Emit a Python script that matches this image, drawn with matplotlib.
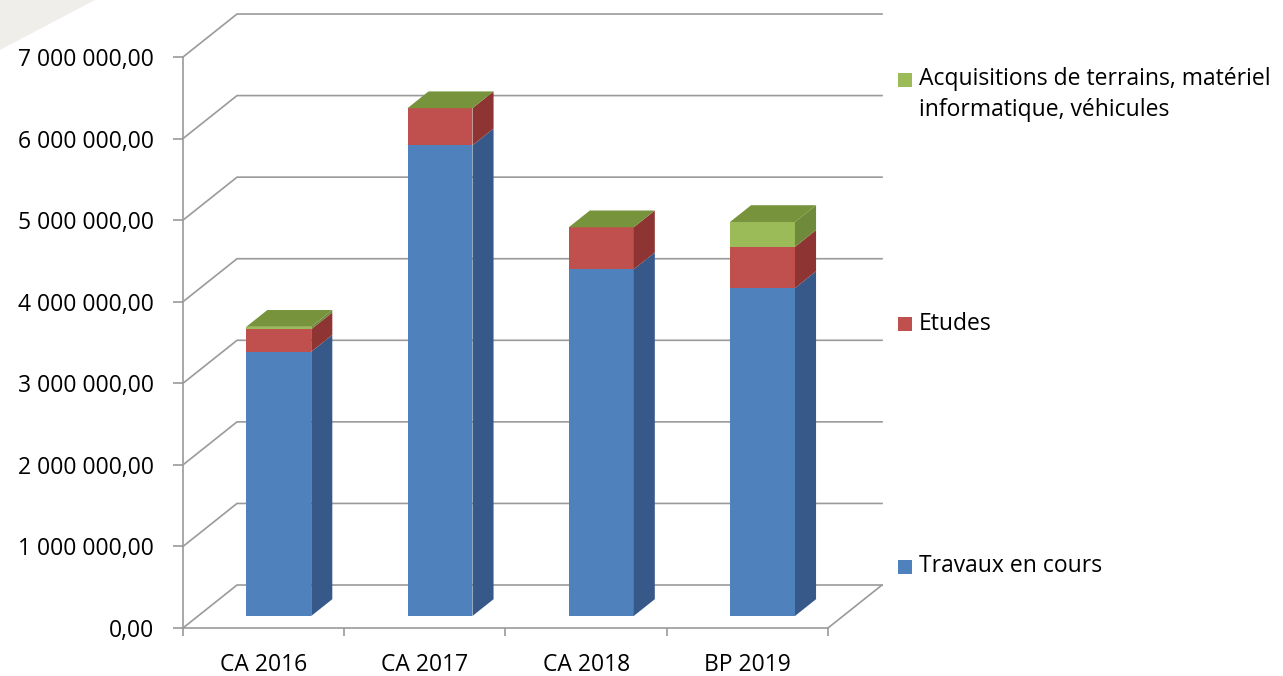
import numpy as np
import matplotlib.pyplot as plt
from matplotlib.patches import Polygon, Rectangle

# data
categories = ['CA 2016', 'CA 2017', 'CA 2018', 'BP 2019']
travaux = [3240000, 5770000, 4250000, 4020000]
etudes = [275000, 455000, 515000, 505000]
acquisitions = [30000, 0, 0, 305000]
series_names = ['Travaux en cours', 'Etudes',
                'Acquisitions de terrains, matériel\ninformatique, véhicules']
yticks = np.arange(0, 7000001, 1000000)

front_colors = ['#4F81BD', '#C0504D', '#9BBB59']
side_colors = ['#37598A', '#8E3533', '#6E8A3A']
top_color = '#77933C'
grid_col = '#9A9A9A'

plt.rcParams['font.family'] = ['Open Sans', 'DejaVu Sans']

W, H = 1283, 676
fig = plt.figure(figsize=(W / 100, H / 100), dpi=100)

def fx(px):
    return px / W

def fy(py):
    return 1 - py / H

# light slide decoration in the top-left corner
fig.patches.append(Polygon([(0, 1), (fx(95), 1), (0, fy(50))], closed=True,
                           transform=fig.transFigure, facecolor='#EFEEEA',
                           edgecolor='none', zorder=-5))

ax = fig.add_axes([fx(183), fy(628), fx(828) - fx(183), fy(57) - fy(628)])
ax.patch.set_alpha(0)
ax.set_xlim(0, 4)
ax.set_ylim(0, 7e6)

# depth of the 3d box in data units
DX = 0.335
DY = 527000
d0, d1 = 0.28, 0.67
bw = 0.403

# walls / gridlines
for v in yticks:
    ax.plot([0, DX, 4 + DX], [v, v + DY, v + DY], color=grid_col, lw=1.2,
            clip_on=False, zorder=1)
ax.plot([4 + DX, 4], [DY, 0], color=grid_col, lw=1.2, clip_on=False, zorder=1)

# stacked 3d bars
series = [travaux, etudes, acquisitions]
x = np.arange(len(categories)) + 0.5 + d0 * DX
bottom = np.zeros(len(categories))
ddx = (d1 - d0) * DX
ddy = (d1 - d0) * DY
for k, vals in enumerate(series):
    vals = np.array(vals, dtype=float)
    ax.bar(x, vals, bw, bottom=bottom + d0 * DY, color=front_colors[k],
           zorder=3, clip_on=False, linewidth=0)
    for i in range(len(categories)):
        b = bottom[i] + d0 * DY
        t = b + vals[i]
        xr = x[i] + bw / 2
        if vals[i] > 0:
            ax.add_patch(Polygon([(xr, b), (xr + ddx, b + ddy), (xr + ddx, t + ddy), (xr, t)],
                                 closed=True, facecolor=side_colors[k],
                                 edgecolor='none', zorder=3, clip_on=False))
    bottom = bottom + vals

for i in range(len(categories)):
    t = bottom[i] + d0 * DY
    xl, xr = x[i] - bw / 2, x[i] + bw / 2
    ax.add_patch(Polygon([(xl, t), (xl + ddx, t + ddy), (xr + ddx, t + ddy), (xr, t)],
                         closed=True, facecolor=top_color, edgecolor='none',
                         zorder=3, clip_on=False))

# axes
for s in ['top', 'right']:
    ax.spines[s].set_visible(False)
for s in ['left', 'bottom']:
    ax.spines[s].set_color(grid_col)
    ax.spines[s].set_linewidth(1.2)

ax.set_yticks(yticks)
ax.set_yticklabels([f'{v:,.2f}'.replace(',', ' ').replace('.', ',') for v in yticks])
ax.tick_params(axis='y', direction='out', length=7, width=1.2, color=grid_col,
               pad=14, labelsize=16.5)

ax.set_xticks(np.arange(0, 5))
ax.set_xticklabels([])
ax.set_xticks(np.arange(len(categories)) + 0.5, minor=True)
ax.set_xticklabels(categories, minor=True)
ax.tick_params(axis='x', which='major', direction='out', length=6, width=1.2,
               color=grid_col)
ax.tick_params(axis='x', which='minor', length=0, pad=18, labelsize=16.5)

# legend
legend_rows = [(series_names[2], 79.5, 94.5), (series_names[1], 323.5, 323.5),
               (series_names[0], 566.5, 566.5)]
legend_cols = [front_colors[2], front_colors[1], front_colors[0]]
for (name, sq_y, txt_y), col in zip(legend_rows, legend_cols):
    fig.patches.append(Rectangle((fx(898), fy(sq_y + 7.5)), fx(14), 14 / H,
                                 transform=fig.transFigure, facecolor=col,
                                 edgecolor='none'))
    fig.text(fx(919), fy(txt_y), name, fontsize=16.5, va='center', ha='left',
             linespacing=1.39)

fig.savefig('out.png', dpi=100)
